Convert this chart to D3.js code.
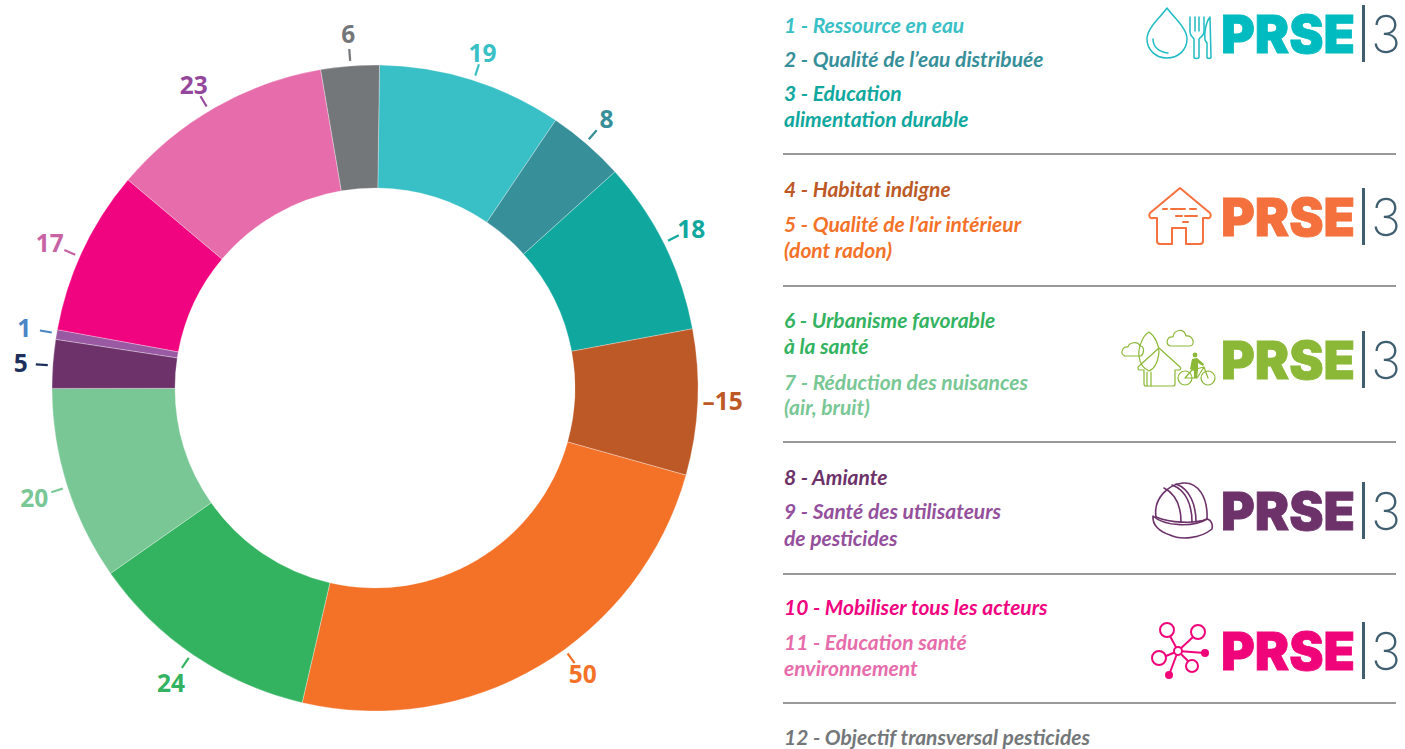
<!DOCTYPE html>
<html lang="fr">
<head>
<meta charset="utf-8">
<script src="https://cdn.jsdelivr.net/npm/d3@7"></script>
<style>
    html, body { margin: 0; padding: 0; background: #fff; overflow: hidden; }
    svg { display: block; }
    .value { font-family: "Open Sans", sans-serif; font-weight: 700; font-size: 24.5px; }
    .legend { font-family: Lato, sans-serif; font-style: italic; font-weight: 700; font-size: 21px; }
    .brand { font-family: Inter, sans-serif; font-weight: 900; font-size: 52px; stroke-width: 0.8px; }
    .three { font-family: Inter, sans-serif; font-weight: 200; font-size: 52px; }
</style>
</head>
<body>
<script>
// Values, clockwise from the top
const sliceValues = [19, 8, 18, -15, 50, 24, 20, 5, 1, 17, 23, 6];
const sliceColors = ['#39c0c6', '#378f9a', '#10a89e', '#bd5926', '#f47228', '#33b35f',
    '#78c795', '#6c3269', '#9a5aa3', '#f0047f', '#e76cab', '#74777a'];
const labelColors = ['#39c0c6', '#378f9a', '#10a89e', '#bd5926', '#f47228', '#33b35f',
    '#78c795', '#1d2f5c', '#4a86c5', '#c763a5', '#94479c', '#74777a'];

const legendTexts = [
    ['1 - Ressource en eau'], ['2 - Qualité de l’eau distribuée'], ['3 - Education', 'alimentation durable'],
    ['4 - Habitat indigne'], ['5 - Qualité de l’air intérieur', '(dont radon)'],
    ['6 - Urbanisme favorable', 'à la santé'], ['7 - Réduction des nuisances', '(air, bruit)'],
    ['8 - Amiante'], ['9 - Santé des utilisateurs', 'de pesticides'],
    ['10 - Mobiliser tous les acteurs'], ['11 - Education santé', 'environnement'],
    ['12 - Objectif transversal pesticides']
];
const legendColors = ['#39c0c6', '#378f9a', '#10a89e', '#bd5926', '#f47228', '#33b35f',
    '#78c795', '#6c3269', '#94509c', '#f0047f', '#e76cab', '#74777a'];

const brandColors = ['#00bbc0', '#f4703c', '#8bb836', '#6c3269', '#f0047a'];

// Layout
const width = 1405, height = 749;
const cx = 375, cy = 388, outerRadius = 323, innerRadius = 200;
const startDeg = 0.8;
// The label of 50 sits well off the middle of its slice, the others only a little
const labelNudgeDeg = [0.4, -0.3, -0.4, -0.4, -5.3, 0.6, -0.3, -0.3, 0.2, -1.3, -1.1, 0.1];
const labelRadius = [352, 355, 354, 348, 354, 359, 358, 355, 356, 356, 353, 355];
const legendBaselines = [[33], [67], [101, 127], [197], [232, 258], [328, 354], [390, 415], [485], [519, 546], [615], [650, 676], [745]];
const ruleYs = [154, 286, 442, 574, 703];
const brandBaselines = [53, 236, 379, 530, 670];

const svg = d3.select('body').append('svg')
    .attr('width', width)
    .attr('height', height);

// Donut
const pie = d3.pie()
    .value(d => Math.abs(d))
    .sort(null)
    .startAngle(startDeg * Math.PI / 180)
    .endAngle((360 + startDeg) * Math.PI / 180);
const arc = d3.arc().innerRadius(innerRadius).outerRadius(outerRadius);
const arcs = pie(sliceValues);

const donut = svg.append('g').attr('transform', `translate(${cx},${cy})`);

donut.selectAll('.slice')
    .data(arcs)
    .join('path')
    .attr('class', 'slice')
    .attr('d', arc)
    .attr('fill', (d, i) => sliceColors[i])
    .attr('stroke', '#fff')
    .attr('stroke-opacity', 0.5)
    .attr('stroke-width', 0.6);

const polar = (d, i, r) => {
    const a = (d.startAngle + d.endAngle) / 2 + labelNudgeDeg[i] * Math.PI / 180;
    return [r * Math.sin(a), -r * Math.cos(a)];
};

// Short leader lines, the -15 has none
donut.selectAll('.tick')
    .data(arcs.filter(d => d.data > 0))
    .join('line')
    .attr('class', 'tick')
    .attr('x1', d => polar(d, d.index, 328)[0])
    .attr('y1', d => polar(d, d.index, 328)[1])
    .attr('x2', d => polar(d, d.index, 340)[0])
    .attr('y2', d => polar(d, d.index, 340)[1])
    .attr('stroke', d => labelColors[d.index])
    .attr('stroke-width', 2.2);

donut.selectAll('.value')
    .data(arcs)
    .join('text')
    .attr('class', 'value')
    .attr('x', (d, i) => polar(d, i, labelRadius[i])[0])
    .attr('y', (d, i) => polar(d, i, labelRadius[i])[1])
    .attr('dy', '0.36em')
    .attr('text-anchor', 'middle')
    .attr('fill', (d, i) => labelColors[i])
    .text(d => d.data < 0 ? '–' + Math.abs(d.data) : d.data);

// Legend
const legend = svg.append('g');
legendTexts.forEach((lines, i) => {
    lines.forEach((line, j) => {
        legend.append('text')
            .attr('class', 'legend')
            .attr('x', 784)
            .attr('y', legendBaselines[i][j])
            .attr('fill', legendColors[i])
            .text(line);
    });
});

legend.selectAll('.rule')
    .data(ruleYs)
    .join('line')
    .attr('class', 'rule')
    .attr('x1', 783)
    .attr('x2', 1396)
    .attr('y1', d => d)
    .attr('y2', d => d)
    .attr('stroke', '#77777a')
    .attr('stroke-width', 1.3);

// PRSE|3 logos
brandBaselines.forEach((y, i) => {
    svg.append('text')
        .attr('class', 'brand')
        .attr('x', 1221)
        .attr('y', y)
        .attr('textLength', 134)
        .attr('lengthAdjust', 'spacingAndGlyphs')
        .attr('fill', brandColors[i])
        .attr('stroke', brandColors[i])
        .text('PRSE');
    svg.append('rect')
        .attr('x', 1362)
        .attr('y', y - 48)
        .attr('width', 3)
        .attr('height', 57)
        .attr('fill', '#3f5e70');
    svg.append('text')
        .attr('class', 'three')
        .attr('x', 1371)
        .attr('y', y)
        .attr('textLength', 30)
        .attr('lengthAdjust', 'spacingAndGlyphs')
        .attr('fill', '#3f5e70')
        .text('3');
});

// Pictograms
function icon(color, width, paths) {
    const g = svg.append('g')
        .attr('fill', 'none')
        .attr('stroke', color)
        .attr('stroke-width', width)
        .attr('stroke-linecap', 'round')
        .attr('stroke-linejoin', 'round');
    paths.forEach(p => g.append('path').attr('d', p));
    return g;
}

// drop, fork and knife
icon('#1fbcc4', 1.5, [
    'M1167,8 C1160,18 1147,28 1147,39 C1147,50 1156,58 1167,58 C1178,58 1187,50 1187,39 C1187,28 1174,18 1167,8 Z',
    'M1153,39 C1153,46 1158,52 1168,53',
    'M1190,17 L1190,32 C1190,36 1193,37 1194,39 L1194,57 C1194,59 1199,59 1199,57 L1199,39 C1200,37 1204,36 1204,32 L1204,17',
    'M1195,17 L1195,31 M1199,17 L1199,31',
    'M1210,17 C1206,22 1204,32 1205,40 L1207,43 L1207,57 C1207,59 1211,59 1211,57 Z'
]);

// house
icon('#f4703c', 2, [
    'M1180,188 L1210,213 C1212,216 1210,219 1207,218 L1203,218 L1203,241 C1203,243 1202,244 1200,244 L1186,244 L1186,228 L1172,228 L1172,244 L1160,244 C1158,244 1157,243 1157,241 L1157,218 L1153,218 C1150,219 1148,216 1150,213 Z',
    'M1163,209 L1167,209 M1171,209 L1185,209 M1190,209 L1196,209 M1176,216 L1182,216 M1185,216 L1197,216 M1183,222 L1188,222'
]);

// clouds, tree, house and bike
const green = icon('#8bb836', 1.2, [
    'M1124,355 C1120,355 1122,346 1128,347 C1129,342 1138,341 1140,346 C1144,346 1145,352 1141,356 L1124,356',
    'M1170,346 C1165,344 1167,336 1173,337 C1174,329 1184,328 1186,336 C1193,335 1196,345 1190,346 Z',
    'M1149,332 C1142,336 1138,349 1139,356 C1140,365 1144,369 1149,371 C1154,369 1158,362 1159,352 C1159,345 1155,336 1149,332 Z',
    'M1147,372 L1147,386 M1151,372 L1151,386',
    'M1159,348 L1139,366 C1137,368 1138,370 1140,370 L1144,370 L1144,384 C1144,386 1145,386 1146,386 L1173,386 C1174,386 1175,386 1175,384 L1175,370 L1179,370 C1181,370 1181,368 1180,367 Z',
    'M1185,378 m-7,0 a7,7 0 1,0 14,0 a7,7 0 1,0 -14,0',
    'M1208,378 m-7,0 a7,7 0 1,0 14,0 a7,7 0 1,0 -14,0',
    'M1185,378 L1192,370 L1204,367 L1208,378 M1185,378 L1197,378 L1204,367'
]);
green.append('circle').attr('cx', 1195).attr('cy', 355).attr('r', 2.4).attr('fill', '#8bb836').attr('stroke', 'none');
green.append('path')
    .attr('d', 'M1192,359 L1197,358 L1204,364 L1203,366 L1198,363 L1198,370 L1197,378 L1194,378 L1194,371 L1190,369 Z')
    .attr('fill', '#8bb836')
    .attr('stroke', 'none');

// helmet
icon('#6c3269', 1.6, [
    'M1156,517 C1153,497 1170,484 1183,483 C1198,482 1208,497 1207,519',
    'M1153,516 C1165,527 1195,527 1207,519 C1212,520 1213,526 1212,529 C1200,539 1180,540 1170,535 C1160,532 1152,525 1153,516 Z',
    'M1156,517 C1170,523 1195,524 1207,519',
    'M1172,485 C1186,490 1192,505 1192,522 M1176,484 C1190,489 1196,505 1196,522',
    'M1164,488 C1176,494 1181,507 1181,522'
]);

// network
const nodes = icon('#f0047a', 2, [
    'M1178,651 L1170,636 M1178,651 L1193,637 M1178,651 L1166,656 M1178,651 L1188,661 M1178,651 L1205,653 M1178,651 L1169,675'
]);
[[1167, 630, 7], [1198, 632, 7], [1159, 658, 7], [1192, 666, 6], [1178, 651, 4]].forEach(n => {
    nodes.append('circle').attr('cx', n[0]).attr('cy', n[1]).attr('r', n[2]).attr('fill', '#fff');
});
[[1205, 653, 4], [1169, 675, 4]].forEach(n => {
    nodes.append('circle').attr('cx', n[0]).attr('cy', n[1]).attr('r', n[2]).attr('fill', '#f0047a').attr('stroke', 'none');
});
</script>
</body>
</html>
